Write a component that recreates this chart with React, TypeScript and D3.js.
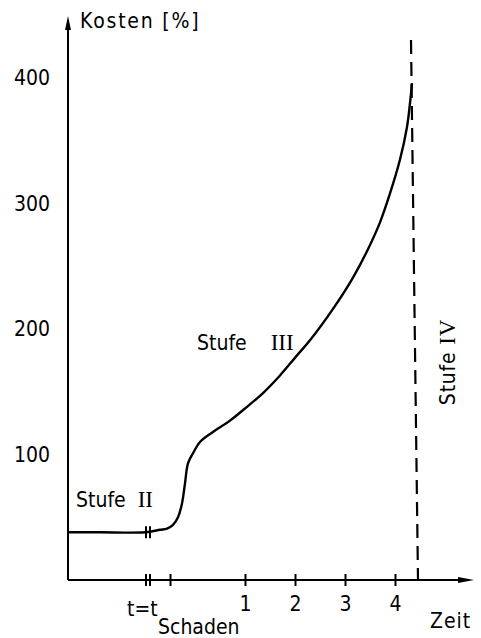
import React, { useEffect, useRef } from 'react';
import * as d3 from 'd3';

// Kostenverlauf über die Zeit (Wert in %, Zeit in Jahren nach t_Schaden)
const zeit = [-2.54, -1.9, -1.0, -0.7, -0.56, -0.44, -0.34, -0.26, -0.2, -0.14, -0.04, 0.1, 0.36, 0.7, 1.04, 1.36, 1.7, 2.04, 2.3, 2.76, 3.16, 3.44, 3.7, 3.9, 4.1, 4.24, 4.3, 4.34];
const kosten = [38, 38, 38, 40, 41, 44, 50, 61, 77, 93, 101, 110, 118, 127, 138, 149, 163, 179, 191, 216, 241, 262, 285, 308, 335, 361, 380, 396];

const yTicks = [100, 200, 300, 400];
const xTicks = [1, 2, 3, 4];
const tSchaden = -0.98;
const extraTick = -0.5;
const grenzeStufe4 = 4.46;

const FONT = '"Liberation Sans Narrow", "DejaVu Sans Condensed", sans-serif';
const SERIF = '"Liberation Serif", "DejaVu Serif", serif';

const App = () => {
  const ref = useRef<SVGSVGElement>(null);

  useEffect(() => {
    const svg = d3.select(ref.current);
    svg.selectAll('*').remove();

    const x = d3.scaleLinear().domain([0, 4]).range([195, 395]);
    const y = d3.scaleLinear().domain([0, 400]).range([580, 78]);
    const x0 = x(-2.54);

    const g = svg.append('g');

    // y axis with arrow
    g.append('line')
      .attr('x1', x0).attr('x2', x0)
      .attr('y1', y(0)).attr('y2', 20)
      .attr('stroke', '#000').attr('stroke-width', 2);
    g.append('path')
      .attr('d', `M${x0 - 3},30 L${x0},16 L${x0 + 3},30 Z`)
      .attr('fill', '#000');

    // x axis with arrow
    g.append('line')
      .attr('x1', x0).attr('x2', 468)
      .attr('y1', y(0)).attr('y2', y(0))
      .attr('stroke', '#000').attr('stroke-width', 2);
    g.append('path')
      .attr('d', `M458,${y(0) - 3} L474,${y(0)} L458,${y(0) + 3} Z`)
      .attr('fill', '#000');

    const xAxis = g.append('g')
      .attr('transform', `translate(0, ${y(0)})`)
      .call(d3.axisBottom(x).tickValues([extraTick, ...xTicks]).tickSize(6)
        .tickFormat((d) => (+d > 0 ? String(d) : '')));
    xAxis.select('.domain').remove();
    xAxis.selectAll('.tick line')
      .attr('y1', -6).attr('y2', 6)
      .attr('stroke', '#000').attr('stroke-width', 2);
    xAxis.selectAll('.tick text')
      .attr('y', 16)
      .attr('font-family', FONT).attr('font-size', 21).attr('fill', '#000');

    // break marks on the x axis and on the curve at t_Schaden
    const breakMark = (cy) => {
      [0, 4].forEach((dx) => {
        g.append('line')
          .attr('x1', x(tSchaden) + dx).attr('x2', x(tSchaden) + dx)
          .attr('y1', cy - 6).attr('y2', cy + 6)
          .attr('stroke', '#000').attr('stroke-width', 2);
      });
    };

    // y tick labels
    g.selectAll('.ylab')
      .data(yTicks)
      .enter().append('text')
      .attr('class', 'ylab')
      .attr('x', 50)
      .attr('y', (d) => y(d))
      .attr('dy', '0.35em')
      .attr('text-anchor', 'end')
      .attr('font-family', FONT).attr('font-size', 21)
      .text((d) => d);

    // Stufe IV boundary
    g.append('line')
      .attr('x1', x(grenzeStufe4) - 7).attr('x2', x(grenzeStufe4))
      .attr('y1', 40).attr('y2', y(0))
      .attr('stroke', '#000').attr('stroke-width', 2.2)
      .attr('stroke-dasharray', '14 8');

    // cost curve
    const line = d3.line<number>()
      .x((d, i) => x(zeit[i]))
      .y((d) => y(d))
      .curve(d3.curveCatmullRom.alpha(0.5));
    g.append('path')
      .datum(kosten)
      .attr('d', line)
      .attr('fill', 'none')
      .attr('stroke', '#000')
      .attr('stroke-width', 2.4);

    breakMark(y(0));
    breakMark(y(38));

    // labels
    const label = (tx, ty, parts, rotate = false, spacing = 0) => {
      const t = g.append('text')
        .attr('font-family', FONT).attr('font-size', 21)
        .attr('letter-spacing', spacing)
        .attr('transform', rotate ? `translate(${tx},${ty}) rotate(-90)` : `translate(${tx},${ty})`)
        .attr('text-anchor', rotate ? 'middle' : 'start');
      parts.forEach(([s, serif]) => {
        t.append('tspan')
          .attr('font-family', serif ? SERIF : FONT)
          .attr('font-size', serif ? 23 : 21)
          .text(s);
      });
    };

    label(80, 28, [['Kosten [%]', false]], false, 1.8);
    label(76, 507, [['Stufe\u00a0\u00a0', false], ['II', true]]);
    label(197, 350, [['Stufe\u00a0\u00a0\u00a0\u00a0', false], ['III', true]]);
    label(455, 362, [['Stufe\u00a0', false], ['IV', true]], true, 0.8);
    label(430, 628, [['Zeit', false]], false, 1);

    g.append('text')
      .attr('x', 127).attr('y', 616)
      .attr('font-family', FONT).attr('font-size', 21)
      .text('t=t');
    g.append('text')
      .attr('x', 158).attr('y', 634)
      .attr('font-family', FONT).attr('font-size', 21)
      .text('Schaden');
  }, []);

  return (
    <svg
      ref={ref}
      width={481}
      height={638}
      style={{ position: 'absolute', left: 0, top: 0, background: '#fff' }}
    />
  );
};

export default App;
